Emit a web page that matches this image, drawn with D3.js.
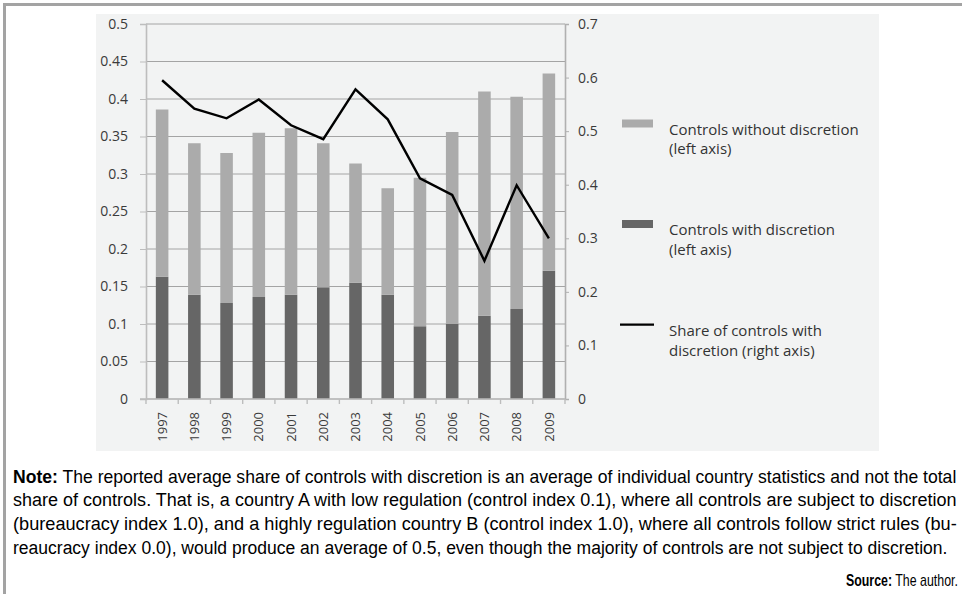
<!DOCTYPE html>
<html>
<head>
<meta charset="utf-8">
<script src="https://cdn.jsdelivr.net/npm/d3@7"></script>
<style>
  body { margin: 0; background: #fff; }
  svg { display: block; }
</style>
</head>
<body>
<div id="chart"></div>
<script>
// data
const years = ["1997", "1998", "1999", "2000", "2001", "2002", "2003", "2004", "2005", "2006", "2007", "2008", "2009"];
const withDiscretion    = [0.163, 0.139, 0.128, 0.136, 0.139, 0.149, 0.155, 0.139, 0.097, 0.100, 0.111, 0.120, 0.171];
const withoutDiscretion = [0.223, 0.202, 0.200, 0.219, 0.222, 0.192, 0.159, 0.142, 0.198, 0.256, 0.299, 0.283, 0.263];
const shareDiscretion   = [0.595, 0.542, 0.524, 0.559, 0.511, 0.485, 0.578, 0.522, 0.412, 0.381, 0.258, 0.399, 0.300];

const leftTicks  = [0, 0.05, 0.1, 0.15, 0.2, 0.25, 0.3, 0.35, 0.4, 0.45, 0.5];
const rightTicks = [0, 0.1, 0.2, 0.3, 0.4, 0.5, 0.6, 0.7];

const legendLabels = [
    ["Controls without discretion", "(left axis)"],
    ["Controls with discretion", "(left axis)"],
    ["Share of controls with", "discretion (right axis)"]
];

const noteLines = [
    " The reported average share of controls with discretion is an average of individual country statistics and not the total",
    "share of controls. That is, a country A with low regulation (control index 0.1), where all controls are subject to discretion",
    "(bureaucracy index 1.0), and a highly regulation country B (control index 1.0), where all controls follow strict rules (bu-",
    "reaucracy index 0.0), would produce an average of 0.5, even though the majority of controls are not subject to discretion."
];

const W = 962, H = 594;
const plot = {left: 146, right: 565, top: 24, bottom: 399};
const lightGrey = "#ababab", darkGrey = "#666666";
const chartFont = "'Open Sans', 'Noto Sans', sans-serif";
const noteFont = "'Liberation Sans', Arial, sans-serif";

const svg = d3.select("#chart")
    .append("svg")
    .attr("width", W)
    .attr("height", H);

svg.append("rect").attr("width", W).attr("height", H).attr("fill", "#fff");

// frame (top and left edges only)
svg.append("rect").attr("x", 3).attr("y", 3).attr("width", W - 3).attr("height", 3).attr("fill", "#a3a3a3");
svg.append("rect").attr("x", 3).attr("y", 3).attr("width", 3).attr("height", H - 3).attr("fill", "#a3a3a3");

// chart background
svg.append("rect")
    .attr("x", 96).attr("y", 14)
    .attr("width", 783).attr("height", 437)
    .attr("fill", "#f2f3f3");

// scales
const x = d3.scaleBand()
    .domain(years)
    .range([plot.left, plot.right])
    .paddingInner(0.61)
    .paddingOuter(0.305);

const yL = d3.scaleLinear().domain([0, 0.5]).range([plot.bottom, plot.top]);
const yR = d3.scaleLinear().domain([0, 0.7]).range([plot.bottom, plot.top]);

// gridlines from the left axis
svg.append("g")
    .selectAll("line")
    .data(leftTicks)
    .join("line")
    .attr("x1", plot.left)
    .attr("x2", plot.right)
    .attr("y1", d => yL(d))
    .attr("y2", d => yL(d))
    .attr("stroke", "#a4a4a4")
    .attr("stroke-width", 1);

// stacked bars
const rows = years.map((year, i) => ({year: year, with: withDiscretion[i], without: withoutDiscretion[i]}));
const stacked = d3.stack().keys(["with", "without"])(rows);
const barColor = {with: darkGrey, without: lightGrey};

svg.append("g")
    .selectAll("g")
    .data(stacked)
    .join("g")
    .attr("fill", d => barColor[d.key])
    .selectAll("rect")
    .data(d => d)
    .join("rect")
    .attr("x", d => x(d.data.year))
    .attr("y", d => yL(d[1]))
    .attr("width", x.bandwidth())
    .attr("height", d => yL(d[0]) - yL(d[1]));

// line on the right axis
const shareData = years.map((year, i) => ({year: year, share: shareDiscretion[i]}));
svg.append("path")
    .datum(shareData)
    .attr("fill", "none")
    .attr("stroke", "#000")
    .attr("stroke-width", 2.4)
    .attr("stroke-linejoin", "miter")
    .attr("d", d3.line()
        .x(d => x(d.year) + x.bandwidth() / 2)
        .y(d => yR(d.share)));

const fmt = d => d === 0 ? "0" : String(+d.toFixed(2));

// left axis
const leftAxis = svg.append("g")
    .attr("transform", `translate(${plot.left}, 0)`)
    .call(d3.axisLeft(yL).tickValues(leftTicks).tickSize(6).tickPadding(12).tickFormat(fmt));
leftAxis.select(".domain").attr("stroke", "#bdbdbd").attr("stroke-width", 1.6);
leftAxis.selectAll(".tick line").attr("stroke", "#bdbdbd");
leftAxis.selectAll("text")
    .style("font-family", chartFont)
    .style("font-size", "14px")
    .attr("fill", "#3a3a3a");

// right axis
const rightAxis = svg.append("g")
    .attr("transform", `translate(${plot.right}, 0)`)
    .call(d3.axisRight(yR).tickValues(rightTicks).tickSize(4).tickPadding(9).tickFormat(fmt));
rightAxis.select(".domain").attr("stroke", "#b0b0b0").attr("stroke-width", 1.6);
rightAxis.selectAll(".tick line").attr("stroke", "#b0b0b0");
rightAxis.selectAll("text")
    .style("font-family", chartFont)
    .style("font-size", "14px")
    .attr("fill", "#3a3a3a");

// bottom axis: baseline, ticks between categories, rotated year labels
const bottomAxis = svg.append("g")
    .attr("transform", `translate(0, ${plot.bottom})`)
    .call(d3.axisBottom(x).tickSize(0).tickPadding(0));
bottomAxis.select(".domain").remove();
bottomAxis.selectAll("text")
    .attr("transform", "rotate(-90)")
    .attr("x", -13)
    .attr("y", 0)
    .attr("dy", "0.36em")
    .attr("text-anchor", "end")
    .style("font-family", chartFont)
    .style("font-size", "13px")
    .attr("fill", "#3a3a3a");

const bounds = years.map(d => x(d) - x.step() * x.paddingInner() / 2).concat([plot.right]);
bottomAxis.append("line")
    .attr("x1", plot.left - 6).attr("x2", plot.right)
    .attr("y1", 0).attr("y2", 0)
    .attr("stroke", "#bdbdbd").attr("stroke-width", 1.4);
bottomAxis.selectAll(".sep")
    .data(bounds)
    .join("line")
    .attr("class", "sep")
    .attr("x1", d => d).attr("x2", d => d)
    .attr("y1", 0).attr("y2", 5)
    .attr("stroke", "#bdbdbd").attr("stroke-width", 1.4);

// legend
const legend = svg.append("g").attr("transform", "translate(622, 0)");
const legendY = [119.5, 220, 321];
legend.append("rect").attr("x", 0).attr("y", legendY[0]).attr("width", 31).attr("height", 8).attr("fill", lightGrey);
legend.append("rect").attr("x", 0).attr("y", legendY[1]).attr("width", 31).attr("height", 8).attr("fill", darkGrey);
legend.append("line").attr("x1", -2).attr("x2", 32).attr("y1", legendY[2] + 3.7).attr("y2", legendY[2] + 3.7)
    .attr("stroke", "#000").attr("stroke-width", 2.3);

legend.selectAll("text.leg")
    .data(legendLabels)
    .join("text")
    .attr("class", "leg")
    .attr("x", 47)
    .attr("y", (d, i) => legendY[i] + 15)
    .style("font-family", chartFont)
    .style("font-size", "15px")
    .attr("fill", "#333")
    .selectAll("tspan")
    .data(d => d)
    .join("tspan")
    .attr("x", 47)
    .attr("dy", (d, i) => i === 0 ? 0 : 19.5)
    .text(d => d);

// squeeze a text horizontally so that it spans `target` px from (x0, y0)
function fitText(t, x0, y0, target) {
    const natural = t.node().getComputedTextLength();
    t.attr("x", 0).attr("y", 0)
        .attr("transform", `translate(${x0}, ${y0}) scale(${target / natural}, 1)`);
}

// note text
const noteLeft = 13, noteRight = 957;
const noteBase = [482.5, 506.2, 529.9, 553.6];

noteLines.forEach((line, i) => {
    const t = svg.append("text")
        .style("font-family", noteFont)
        .style("font-size", "18px")
        .attr("fill", "#000");
    if (i === 0) {
        t.append("tspan").style("font-weight", "bold").text("Note:");
    }
    t.append("tspan").text(line);
    const target = i === noteLines.length - 1 ? 935 : noteRight - noteLeft;
    fitText(t, noteLeft, noteBase[i], target);
});

// source line
const src = svg.append("text")
    .style("font-family", noteFont)
    .style("font-size", "16px")
    .attr("fill", "#000");
src.append("tspan").style("font-weight", "bold").text("Source:");
src.append("tspan").text(" The author.");
fitText(src, 846, 586, 112);
</script>
</body>
</html>
